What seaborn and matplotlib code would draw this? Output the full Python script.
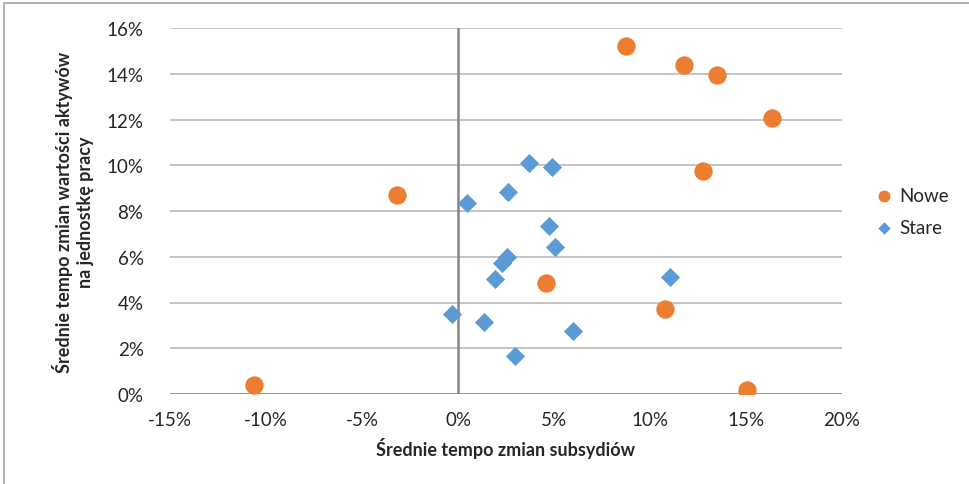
import pandas as pd
import matplotlib.pyplot as plt
import matplotlib.patches as mpatches
from matplotlib.ticker import PercentFormatter, MultipleLocator
import seaborn as sns

# Dane (ułamki)
nowe_x = [0.0875, 0.1177, 0.1350, 0.1635, 0.1276, -0.0318, 0.0458, 0.1078, -0.1063, 0.1505]
nowe_y = [0.1520, 0.1440, 0.1395, 0.1207, 0.0975, 0.0870, 0.0485, 0.0372, 0.0039, 0.0017]

stare_x = [0.0370, 0.0490, 0.0260, 0.0047, 0.0474, 0.0505, 0.0255, 0.0230, 0.0193,
           0.1104, -0.0030, 0.0135, 0.0599, 0.0297]
stare_y = [0.1010, 0.0992, 0.0883, 0.0835, 0.0734, 0.0643, 0.0599, 0.0572, 0.0503,
           0.0511, 0.0350, 0.0315, 0.0275, 0.0166]

sns.set_style('white')
plt.rcParams['font.family'] = ['Lato', 'DejaVu Sans']
plt.rcParams['axes.unicode_minus'] = False

fig = plt.figure(figsize=(9.69, 4.85), dpi=100)
ax = fig.add_axes([170 / 969, 1 - 395 / 485, 672 / 969, 366 / 485])

# Ramka wykresu
fig.patches.append(mpatches.Rectangle((4 / 969, -0.05), 1.2, 1 - 4 / 485 + 0.05,
                                      transform=fig.transFigure, fill=False,
                                      edgecolor='#a6a6a6', linewidth=1.2, zorder=0))

ax.set_xlim(-0.15, 0.20)
ax.set_ylim(0, 0.16)
ax.xaxis.set_major_locator(MultipleLocator(0.05))
ax.yaxis.set_major_locator(MultipleLocator(0.02))
ax.xaxis.set_major_formatter(PercentFormatter(1, decimals=0))
ax.yaxis.set_major_formatter(PercentFormatter(1, decimals=0))

ax.grid(axis='y', color='#bfbfbf', linewidth=1.3)
ax.grid(axis='x', visible=False)
for s in ax.spines.values():
    s.set_visible(False)
ax.axhline(0, color='#868686', linewidth=1.8, zorder=1)
ax.axvline(0, color='#868686', linewidth=1.8, zorder=1)

sns.scatterplot(x=nowe_x, y=nowe_y, color='#ED7D31', marker='o', s=175,
                linewidth=0, label='Nowe', ax=ax, zorder=3)
sns.scatterplot(x=stare_x, y=stare_y, color='#5B9BD5', marker='D', s=95,
                linewidth=0, label='Stare', ax=ax, zorder=3)

ax.tick_params(axis='both', length=0, labelsize=13.5, colors='#262626')
ax.tick_params(axis='y', pad=19)
ax.tick_params(axis='x', pad=12)

ax.set_xlabel('Średnie tempo zmian subsydiów', fontsize=13, fontweight='bold',
              color='#262626', labelpad=7)
ax.set_ylabel('Średnie tempo zmian wartości aktywów\nna jednostkę pracy', fontsize=13,
              fontweight='bold', color='#262626', labelpad=9, linespacing=1.3)

leg = ax.legend(loc='center left', bbox_to_anchor=(1.01, 0.5), frameon=False,
                fontsize=13.5, handletextpad=-0.2, labelspacing=0.8, markerscale=0.65)
for t in leg.get_texts():
    t.set_color('#262626')

plt.savefig('out.png', dpi=100, facecolor='white')
plt.close()
